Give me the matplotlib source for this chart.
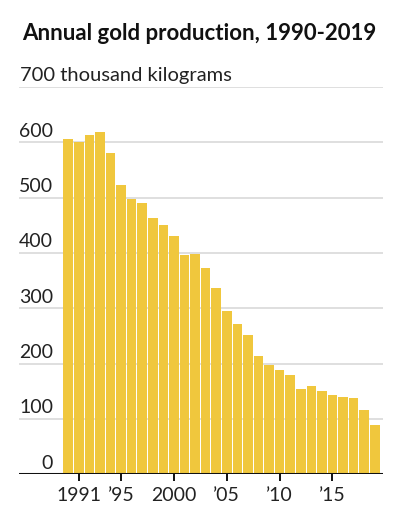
import matplotlib.pyplot as plt
import matplotlib.transforms as mtransforms

plt.rcParams["font.family"] = ["Lato", "DejaVu Sans"]

# Annual gold production, thousand kilograms
years = list(range(1990, 2020))
production = [606, 601, 614, 619, 580, 523, 497, 491, 464, 451,
              431, 397, 398, 372, 336, 295, 272, 252, 213, 198,
              189, 180, 154, 160, 151, 143, 140, 137, 116, 89]

xtick_pos = [1991, 1995, 2000, 2005, 2010, 2015]
xtick_labels = ["1991", "\u201995", "2000", "\u201905", "\u201910", "\u201915"]
ytick_vals = [0, 100, 200, 300, 400, 500, 600]

W, H = 408, 517
fig = plt.figure(figsize=(W / 100, H / 100), dpi=100)
ax = fig.add_axes([19 / W, (H - 474.3) / H, (383 - 19) / W, (474.3 - 87) / H])

ax.bar(years, production, width=0.9, color="#f0c73d", zorder=2)

ax.set_xlim(1985.34, 2019.78)
ax.set_ylim(0, 700)

# light gridlines, black baseline
ax.set_yticks(range(0, 800, 100))
ax.yaxis.grid(True, color="#d9d9d9", linewidth=1.2, zorder=0)
ax.tick_params(axis="y", length=0, labelleft=False)
ax.axhline(0, color="#111111", linewidth=2.2, zorder=3)
for s in ax.spines.values():
    s.set_visible(False)

ax.set_xticks(xtick_pos)
ax.set_xticklabels(xtick_labels, fontsize=14, color="#222222")
ax.tick_params(axis="x", length=5, width=1.4, color="#111111", pad=4)

# y labels sit above their gridlines
trans = mtransforms.blended_transform_factory(ax.transAxes, ax.transData)
for v in ytick_vals:
    ax.text((53 - 19) / 364, v + 10, str(v), transform=trans, ha="right",
            va="baseline", fontsize=14, color="#222222")
ax.text(0.003, 710, "700 thousand kilograms", transform=trans, ha="left",
        va="baseline", fontsize=14.5, color="#222222")

fig.text(22 / W, 1 - 39.5 / H, "Annual gold production, 1990-2019",
         ha="left", va="baseline", fontsize=16, fontweight="bold", color="#111111")

fig.savefig("out.png", dpi=100)
